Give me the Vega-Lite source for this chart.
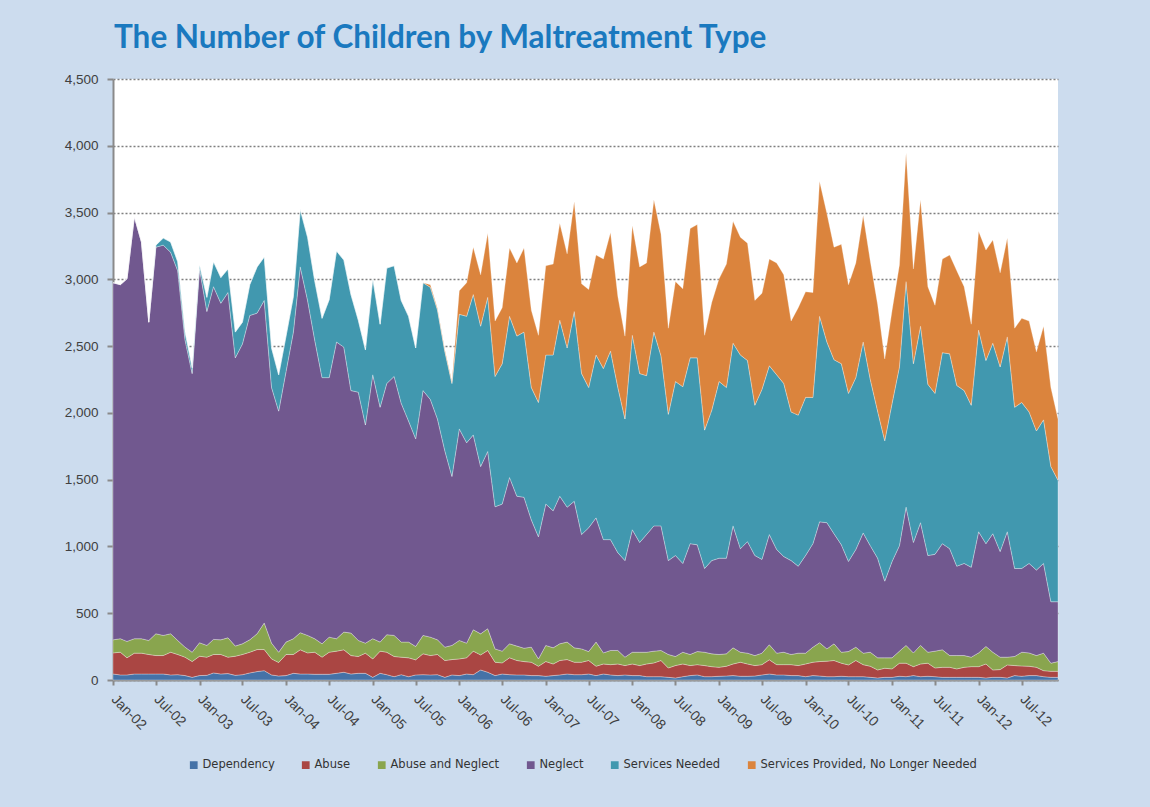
{
  "$schema": "https://vega.github.io/schema/vega-lite/v6.json",
  "width": 945,
  "height": 601,
  "autosize": {"type": "none"},
  "padding": {"left": 113, "top": 79, "right": 92, "bottom": 127},
  "background": "#CCDCEE",
  "view": {"fill": "#ffffff", "stroke": null},
  "title": {
    "text": "The Number of Children by Maltreatment Type",
    "anchor": "start",
    "frame": "group",
    "font": "Lato",
    "fontWeight": "bold",
    "fontSize": 31.5,
    "color": "#1A79BF",
    "baseline": "alphabetic",
    "offset": -7,
    "dx": 1
  },
  "data": {
    "format": {"parse": {"date": "date:'%Y-%m'"}},
    "values": [
      {"date":"2002-01","Dependency":45,"Abuse":158,"Abuse and Neglect":98,"Neglect":2674,"Services Needed":0,"Services Provided, No Longer Needed":0},
      {"date":"2002-02","Dependency":38,"Abuse":170,"Abuse and Neglect":101,"Neglect":2651,"Services Needed":0,"Services Provided, No Longer Needed":0},
      {"date":"2002-03","Dependency":38,"Abuse":128,"Abuse and Neglect":123,"Neglect":2715,"Services Needed":0,"Services Provided, No Longer Needed":0},
      {"date":"2002-04","Dependency":45,"Abuse":156,"Abuse and Neglect":108,"Neglect":3160,"Services Needed":0,"Services Provided, No Longer Needed":0},
      {"date":"2002-05","Dependency":45,"Abuse":156,"Abuse and Neglect":108,"Neglect":2971,"Services Needed":0,"Services Provided, No Longer Needed":0},
      {"date":"2002-06","Dependency":45,"Abuse":146,"Abuse and Neglect":105,"Neglect":2383,"Services Needed":0,"Services Provided, No Longer Needed":0},
      {"date":"2002-07","Dependency":45,"Abuse":138,"Abuse and Neglect":163,"Neglect":2895,"Services Needed":15,"Services Provided, No Longer Needed":0},
      {"date":"2002-08","Dependency":45,"Abuse":138,"Abuse and Neglect":151,"Neglect":2922,"Services Needed":53,"Services Provided, No Longer Needed":0},
      {"date":"2002-09","Dependency":38,"Abuse":170,"Abuse and Neglect":138,"Neglect":2857,"Services Needed":77,"Services Provided, No Longer Needed":0},
      {"date":"2002-10","Dependency":40,"Abuse":151,"Abuse and Neglect":105,"Neglect":2768,"Services Needed":68,"Services Provided, No Longer Needed":0},
      {"date":"2002-11","Dependency":33,"Abuse":138,"Abuse and Neglect":75,"Neglect":2300,"Services Needed":59,"Services Provided, No Longer Needed":0},
      {"date":"2002-12","Dependency":20,"Abuse":118,"Abuse and Neglect":70,"Neglect":2086,"Services Needed":44,"Services Provided, No Longer Needed":0},
      {"date":"2003-01","Dependency":33,"Abuse":145,"Abuse and Neglect":101,"Neglect":2801,"Services Needed":30,"Services Provided, No Longer Needed":0},
      {"date":"2003-02","Dependency":35,"Abuse":136,"Abuse and Neglect":88,"Neglect":2500,"Services Needed":106,"Services Provided, No Longer Needed":0},
      {"date":"2003-03","Dependency":53,"Abuse":138,"Abuse and Neglect":113,"Neglect":2641,"Services Needed":187,"Services Provided, No Longer Needed":0},
      {"date":"2003-04","Dependency":45,"Abuse":146,"Abuse and Neglect":110,"Neglect":2520,"Services Needed":192,"Services Provided, No Longer Needed":0},
      {"date":"2003-05","Dependency":48,"Abuse":123,"Abuse and Neglect":145,"Neglect":2585,"Services Needed":177,"Services Provided, No Longer Needed":0},
      {"date":"2003-06","Dependency":35,"Abuse":143,"Abuse and Neglect":76,"Neglect":2158,"Services Needed":193,"Services Provided, No Longer Needed":0},
      {"date":"2003-07","Dependency":40,"Abuse":151,"Abuse and Neglect":80,"Neglect":2245,"Services Needed":163,"Services Provided, No Longer Needed":0},
      {"date":"2003-08","Dependency":53,"Abuse":155,"Abuse and Neglect":93,"Neglect":2428,"Services Needed":231,"Services Provided, No Longer Needed":0},
      {"date":"2003-09","Dependency":63,"Abuse":165,"Abuse and Neglect":118,"Neglect":2401,"Services Needed":346,"Services Provided, No Longer Needed":0},
      {"date":"2003-10","Dependency":70,"Abuse":158,"Abuse and Neglect":199,"Neglect":2415,"Services Needed":325,"Services Provided, No Longer Needed":0},
      {"date":"2003-11","Dependency":38,"Abuse":120,"Abuse and Neglect":118,"Neglect":1914,"Services Needed":296,"Services Provided, No Longer Needed":0},
      {"date":"2003-12","Dependency":30,"Abuse":101,"Abuse and Neglect":77,"Neglect":1805,"Services Needed":272,"Services Provided, No Longer Needed":0},
      {"date":"2004-01","Dependency":33,"Abuse":158,"Abuse and Neglect":93,"Neglect":2025,"Services Needed":266,"Services Provided, No Longer Needed":0},
      {"date":"2004-02","Dependency":50,"Abuse":141,"Abuse and Neglect":118,"Neglect":2296,"Services Needed":266,"Services Provided, No Longer Needed":0},
      {"date":"2004-03","Dependency":45,"Abuse":181,"Abuse and Neglect":128,"Neglect":2739,"Services Needed":429,"Services Provided, No Longer Needed":0},
      {"date":"2004-04","Dependency":45,"Abuse":158,"Abuse and Neglect":131,"Neglect":2508,"Services Needed":473,"Services Provided, No Longer Needed":0},
      {"date":"2004-05","Dependency":43,"Abuse":165,"Abuse and Neglect":101,"Neglect":2237,"Services Needed":444,"Services Provided, No Longer Needed":0},
      {"date":"2004-06","Dependency":43,"Abuse":128,"Abuse and Neglect":100,"Neglect":1993,"Services Needed":444,"Services Provided, No Longer Needed":0},
      {"date":"2004-07","Dependency":43,"Abuse":165,"Abuse and Neglect":113,"Neglect":1943,"Services Needed":584,"Services Provided, No Longer Needed":0},
      {"date":"2004-08","Dependency":50,"Abuse":166,"Abuse and Neglect":93,"Neglect":2222,"Services Needed":681,"Services Provided, No Longer Needed":0},
      {"date":"2004-09","Dependency":58,"Abuse":168,"Abuse and Neglect":133,"Neglect":2133,"Services Needed":652,"Services Provided, No Longer Needed":0},
      {"date":"2004-10","Dependency":45,"Abuse":138,"Abuse and Neglect":168,"Neglect":1816,"Services Needed":719,"Services Provided, No Longer Needed":0},
      {"date":"2004-11","Dependency":50,"Abuse":126,"Abuse and Neglect":120,"Neglect":1859,"Services Needed":539,"Services Provided, No Longer Needed":0},
      {"date":"2004-12","Dependency":50,"Abuse":151,"Abuse and Neglect":75,"Neglect":1633,"Services Needed":563,"Services Provided, No Longer Needed":0},
      {"date":"2005-01","Dependency":20,"Abuse":138,"Abuse and Neglect":151,"Neglect":1976,"Services Needed":719,"Services Provided, No Longer Needed":0},
      {"date":"2005-02","Dependency":50,"Abuse":166,"Abuse and Neglect":68,"Neglect":1758,"Services Needed":622,"Services Provided, No Longer Needed":0},
      {"date":"2005-03","Dependency":40,"Abuse":168,"Abuse and Neglect":131,"Neglect":1881,"Services Needed":864,"Services Provided, No Longer Needed":0},
      {"date":"2005-04","Dependency":25,"Abuse":151,"Abuse and Neglect":158,"Neglect":1939,"Services Needed":829,"Services Provided, No Longer Needed":0},
      {"date":"2005-05","Dependency":40,"Abuse":131,"Abuse and Neglect":113,"Neglect":1788,"Services Needed":770,"Services Provided, No Longer Needed":0},
      {"date":"2005-06","Dependency":25,"Abuse":141,"Abuse and Neglect":118,"Neglect":1655,"Services Needed":784,"Services Provided, No Longer Needed":0},
      {"date":"2005-07","Dependency":38,"Abuse":113,"Abuse and Neglect":100,"Neglect":1555,"Services Needed":680,"Services Provided, No Longer Needed":0},
      {"date":"2005-08","Dependency":40,"Abuse":156,"Abuse and Neglect":138,"Neglect":1833,"Services Needed":808,"Services Provided, No Longer Needed":0},
      {"date":"2005-09","Dependency":38,"Abuse":145,"Abuse and Neglect":138,"Neglect":1779,"Services Needed":840,"Services Provided, No Longer Needed":20},
      {"date":"2005-10","Dependency":40,"Abuse":151,"Abuse and Neglect":110,"Neglect":1653,"Services Needed":816,"Services Provided, No Longer Needed":12},
      {"date":"2005-11","Dependency":20,"Abuse":126,"Abuse and Neglect":100,"Neglect":1471,"Services Needed":743,"Services Provided, No Longer Needed":12},
      {"date":"2005-12","Dependency":38,"Abuse":115,"Abuse and Neglect":106,"Neglect":1265,"Services Needed":696,"Services Provided, No Longer Needed":15},
      {"date":"2006-01","Dependency":33,"Abuse":125,"Abuse and Neglect":138,"Neglect":1584,"Services Needed":858,"Services Provided, No Longer Needed":177},
      {"date":"2006-02","Dependency":45,"Abuse":121,"Abuse and Neglect":110,"Neglect":1500,"Services Needed":947,"Services Provided, No Longer Needed":252},
      {"date":"2006-03","Dependency":40,"Abuse":176,"Abuse and Neglect":160,"Neglect":1459,"Services Needed":1051,"Services Provided, No Longer Needed":355},
      {"date":"2006-04","Dependency":75,"Abuse":113,"Abuse and Neglect":158,"Neglect":1252,"Services Needed":1051,"Services Provided, No Longer Needed":385},
      {"date":"2006-05","Dependency":58,"Abuse":163,"Abuse and Neglect":163,"Neglect":1327,"Services Needed":1154,"Services Provided, No Longer Needed":480},
      {"date":"2006-06","Dependency":33,"Abuse":100,"Abuse and Neglect":100,"Neglect":1064,"Services Needed":976,"Services Provided, No Longer Needed":415},
      {"date":"2006-07","Dependency":45,"Abuse":83,"Abuse and Neglect":88,"Neglect":1101,"Services Needed":1051,"Services Provided, No Longer Needed":420},
      {"date":"2006-08","Dependency":40,"Abuse":126,"Abuse and Neglect":105,"Neglect":1245,"Services Needed":1207,"Services Provided, No Longer Needed":512},
      {"date":"2006-09","Dependency":38,"Abuse":108,"Abuse and Neglect":108,"Neglect":1122,"Services Needed":1199,"Services Provided, No Longer Needed":548},
      {"date":"2006-10","Dependency":38,"Abuse":100,"Abuse and Neglect":100,"Neglect":1130,"Services Needed":1237,"Services Provided, No Longer Needed":630},
      {"date":"2006-11","Dependency":33,"Abuse":100,"Abuse and Neglect":113,"Neglect":953,"Services Needed":991,"Services Provided, No Longer Needed":578},
      {"date":"2006-12","Dependency":33,"Abuse":70,"Abuse and Neglect":55,"Neglect":914,"Services Needed":1006,"Services Provided, No Longer Needed":503},
      {"date":"2007-01","Dependency":28,"Abuse":110,"Abuse and Neglect":121,"Neglect":1058,"Services Needed":1116,"Services Provided, No Longer Needed":669},
      {"date":"2007-02","Dependency":33,"Abuse":87,"Abuse and Neglect":121,"Neglect":1026,"Services Needed":1166,"Services Provided, No Longer Needed":681},
      {"date":"2007-03","Dependency":38,"Abuse":108,"Abuse and Neglect":125,"Neglect":1105,"Services Needed":1318,"Services Provided, No Longer Needed":725},
      {"date":"2007-04","Dependency":45,"Abuse":108,"Abuse and Neglect":131,"Neglect":1010,"Services Needed":1192,"Services Provided, No Longer Needed":705},
      {"date":"2007-05","Dependency":40,"Abuse":93,"Abuse and Neglect":108,"Neglect":1097,"Services Needed":1421,"Services Provided, No Longer Needed":823},
      {"date":"2007-06","Dependency":40,"Abuse":93,"Abuse and Neglect":100,"Neglect":856,"Services Needed":1205,"Services Provided, No Longer Needed":672},
      {"date":"2007-07","Dependency":45,"Abuse":101,"Abuse and Neglect":67,"Neglect":927,"Services Needed":1050,"Services Provided, No Longer Needed":734},
      {"date":"2007-08","Dependency":33,"Abuse":70,"Abuse and Neglect":181,"Neglect":930,"Services Needed":1219,"Services Provided, No Longer Needed":749},
      {"date":"2007-09","Dependency":45,"Abuse":75,"Abuse and Neglect":83,"Neglect":848,"Services Needed":1281,"Services Provided, No Longer Needed":820},
      {"date":"2007-10","Dependency":38,"Abuse":77,"Abuse and Neglect":106,"Neglect":830,"Services Needed":1412,"Services Provided, No Longer Needed":888},
      {"date":"2007-11","Dependency":33,"Abuse":87,"Abuse and Neglect":101,"Neglect":732,"Services Needed":1237,"Services Provided, No Longer Needed":681},
      {"date":"2007-12","Dependency":38,"Abuse":70,"Abuse and Neglect":63,"Neglect":723,"Services Needed":1060,"Services Provided, No Longer Needed":621},
      {"date":"2008-01","Dependency":33,"Abuse":87,"Abuse and Neglect":88,"Neglect":917,"Services Needed":1456,"Services Provided, No Longer Needed":823},
      {"date":"2008-02","Dependency":33,"Abuse":75,"Abuse and Neglect":100,"Neglect":822,"Services Needed":1264,"Services Provided, No Longer Needed":799},
      {"date":"2008-03","Dependency":25,"Abuse":95,"Abuse and Neglect":88,"Neglect":881,"Services Needed":1190,"Services Provided, No Longer Needed":844},
      {"date":"2008-04","Dependency":25,"Abuse":103,"Abuse and Neglect":88,"Neglect":938,"Services Needed":1451,"Services Provided, No Longer Needed":991},
      {"date":"2008-05","Dependency":25,"Abuse":121,"Abuse and Neglect":75,"Neglect":933,"Services Needed":1273,"Services Provided, No Longer Needed":912},
      {"date":"2008-06","Dependency":20,"Abuse":70,"Abuse and Neglect":101,"Neglect":703,"Services Needed":1095,"Services Provided, No Longer Needed":645},
      {"date":"2008-07","Dependency":15,"Abuse":93,"Abuse and Neglect":68,"Neglect":756,"Services Needed":1303,"Services Provided, No Longer Needed":749},
      {"date":"2008-08","Dependency":25,"Abuse":95,"Abuse and Neglect":88,"Neglect":665,"Services Needed":1323,"Services Provided, No Longer Needed":734},
      {"date":"2008-09","Dependency":33,"Abuse":75,"Abuse and Neglect":83,"Neglect":830,"Services Needed":1391,"Services Provided, No Longer Needed":968},
      {"date":"2008-10","Dependency":38,"Abuse":77,"Abuse and Neglect":98,"Neglect":799,"Services Needed":1400,"Services Provided, No Longer Needed":998},
      {"date":"2008-11","Dependency":25,"Abuse":83,"Abuse and Neglect":100,"Neglect":627,"Services Needed":1036,"Services Provided, No Longer Needed":710},
      {"date":"2008-12","Dependency":25,"Abuse":75,"Abuse and Neglect":96,"Neglect":698,"Services Needed":1125,"Services Provided, No Longer Needed":808},
      {"date":"2009-01","Dependency":28,"Abuse":67,"Abuse and Neglect":96,"Neglect":721,"Services Needed":1323,"Services Provided, No Longer Needed":769},
      {"date":"2009-02","Dependency":30,"Abuse":73,"Abuse and Neglect":93,"Neglect":716,"Services Needed":1278,"Services Provided, No Longer Needed":924},
      {"date":"2009-03","Dependency":33,"Abuse":87,"Abuse and Neglect":121,"Neglect":913,"Services Needed":1368,"Services Provided, No Longer Needed":912},
      {"date":"2009-04","Dependency":28,"Abuse":105,"Abuse and Neglect":75,"Neglect":775,"Services Needed":1450,"Services Provided, No Longer Needed":882},
      {"date":"2009-05","Dependency":28,"Abuse":92,"Abuse and Neglect":81,"Neglect":835,"Services Needed":1356,"Services Provided, No Longer Needed":879},
      {"date":"2009-06","Dependency":30,"Abuse":78,"Abuse and Neglect":75,"Neglect":749,"Services Needed":1125,"Services Provided, No Longer Needed":785},
      {"date":"2009-07","Dependency":38,"Abuse":77,"Abuse and Neglect":86,"Neglect":702,"Services Needed":1273,"Services Provided, No Longer Needed":719},
      {"date":"2009-08","Dependency":45,"Abuse":106,"Abuse and Neglect":113,"Neglect":825,"Services Needed":1264,"Services Provided, No Longer Needed":799},
      {"date":"2009-09","Dependency":38,"Abuse":77,"Abuse and Neglect":86,"Neglect":776,"Services Needed":1308,"Services Provided, No Longer Needed":838},
      {"date":"2009-10","Dependency":38,"Abuse":77,"Abuse and Neglect":93,"Neglect":716,"Services Needed":1296,"Services Provided, No Longer Needed":814},
      {"date":"2009-11","Dependency":33,"Abuse":82,"Abuse and Neglect":76,"Neglect":703,"Services Needed":1113,"Services Provided, No Longer Needed":681},
      {"date":"2009-12","Dependency":33,"Abuse":75,"Abuse and Neglect":93,"Neglect":651,"Services Needed":1131,"Services Provided, No Longer Needed":805},
      {"date":"2010-01","Dependency":25,"Abuse":95,"Abuse and Neglect":81,"Neglect":731,"Services Needed":1184,"Services Provided, No Longer Needed":791},
      {"date":"2010-02","Dependency":33,"Abuse":100,"Abuse and Neglect":113,"Neglect":775,"Services Needed":1095,"Services Provided, No Longer Needed":785},
      {"date":"2010-03","Dependency":30,"Abuse":108,"Abuse and Neglect":141,"Neglect":905,"Services Needed":1539,"Services Provided, No Longer Needed":1012},
      {"date":"2010-04","Dependency":25,"Abuse":116,"Abuse and Neglect":92,"Neglect":945,"Services Needed":1353,"Services Provided, No Longer Needed":962},
      {"date":"2010-05","Dependency":25,"Abuse":121,"Abuse and Neglect":125,"Neglect":824,"Services Needed":1303,"Services Provided, No Longer Needed":843},
      {"date":"2010-06","Dependency":28,"Abuse":98,"Abuse and Neglect":82,"Neglect":804,"Services Needed":1356,"Services Provided, No Longer Needed":894},
      {"date":"2010-07","Dependency":25,"Abuse":88,"Abuse and Neglect":100,"Neglect":675,"Services Needed":1258,"Services Provided, No Longer Needed":814},
      {"date":"2010-08","Dependency":25,"Abuse":121,"Abuse and Neglect":100,"Neglect":731,"Services Needed":1287,"Services Provided, No Longer Needed":859},
      {"date":"2010-09","Dependency":25,"Abuse":90,"Abuse and Neglect":86,"Neglect":900,"Services Needed":1430,"Services Provided, No Longer Needed":947},
      {"date":"2010-10","Dependency":20,"Abuse":83,"Abuse and Neglect":105,"Neglect":798,"Services Needed":1244,"Services Provided, No Longer Needed":888},
      {"date":"2010-11","Dependency":15,"Abuse":60,"Abuse and Neglect":91,"Neglect":746,"Services Needed":1101,"Services Provided, No Longer Needed":799},
      {"date":"2010-12","Dependency":20,"Abuse":68,"Abuse and Neglect":78,"Neglect":574,"Services Needed":1051,"Services Provided, No Longer Needed":613},
      {"date":"2011-01","Dependency":20,"Abuse":63,"Abuse and Neglect":83,"Neglect":722,"Services Needed":1184,"Services Provided, No Longer Needed":696},
      {"date":"2011-02","Dependency":28,"Abuse":98,"Abuse and Neglect":90,"Neglect":790,"Services Needed":1338,"Services Provided, No Longer Needed":764},
      {"date":"2011-03","Dependency":25,"Abuse":101,"Abuse and Neglect":133,"Neglect":1036,"Services Needed":1688,"Services Provided, No Longer Needed":962},
      {"date":"2011-04","Dependency":33,"Abuse":67,"Abuse and Neglect":103,"Neglect":827,"Services Needed":1338,"Services Provided, No Longer Needed":710},
      {"date":"2011-05","Dependency":25,"Abuse":95,"Abuse and Neglect":139,"Neglect":919,"Services Needed":1471,"Services Provided, No Longer Needed":947},
      {"date":"2011-06","Dependency":28,"Abuse":98,"Abuse and Neglect":82,"Neglect":724,"Services Needed":1282,"Services Provided, No Longer Needed":731},
      {"date":"2011-07","Dependency":25,"Abuse":65,"Abuse and Neglect":126,"Neglect":725,"Services Needed":1205,"Services Provided, No Longer Needed":660},
      {"date":"2011-08","Dependency":20,"Abuse":75,"Abuse and Neglect":131,"Neglect":795,"Services Needed":1430,"Services Provided, No Longer Needed":701},
      {"date":"2011-09","Dependency":20,"Abuse":75,"Abuse and Neglect":88,"Neglect":800,"Services Needed":1459,"Services Provided, No Longer Needed":740},
      {"date":"2011-10","Dependency":20,"Abuse":63,"Abuse and Neglect":100,"Neglect":669,"Services Needed":1353,"Services Provided, No Longer Needed":859},
      {"date":"2011-11","Dependency":20,"Abuse":75,"Abuse and Neglect":88,"Neglect":690,"Services Needed":1294,"Services Provided, No Longer Needed":778},
      {"date":"2011-12","Dependency":20,"Abuse":80,"Abuse and Neglect":71,"Neglect":673,"Services Needed":1213,"Services Provided, No Longer Needed":607},
      {"date":"2012-01","Dependency":20,"Abuse":80,"Abuse and Neglect":103,"Neglect":907,"Services Needed":1510,"Services Provided, No Longer Needed":740},
      {"date":"2012-02","Dependency":15,"Abuse":105,"Abuse and Neglect":131,"Neglect":770,"Services Needed":1371,"Services Provided, No Longer Needed":828},
      {"date":"2012-03","Dependency":20,"Abuse":55,"Abuse and Neglect":133,"Neglect":887,"Services Needed":1427,"Services Provided, No Longer Needed":772},
      {"date":"2012-04","Dependency":20,"Abuse":58,"Abuse and Neglect":93,"Neglect":791,"Services Needed":1382,"Services Provided, No Longer Needed":705},
      {"date":"2012-05","Dependency":15,"Abuse":98,"Abuse and Neglect":58,"Neglect":939,"Services Needed":1459,"Services Provided, No Longer Needed":740},
      {"date":"2012-06","Dependency":33,"Abuse":75,"Abuse and Neglect":68,"Neglect":659,"Services Needed":1207,"Services Provided, No Longer Needed":592},
      {"date":"2012-07","Dependency":28,"Abuse":77,"Abuse and Neglect":103,"Neglect":627,"Services Needed":1243,"Services Provided, No Longer Needed":630},
      {"date":"2012-08","Dependency":33,"Abuse":70,"Abuse and Neglect":100,"Neglect":670,"Services Needed":1134,"Services Provided, No Longer Needed":681},
      {"date":"2012-09","Dependency":33,"Abuse":62,"Abuse and Neglect":88,"Neglect":640,"Services Needed":1042,"Services Provided, No Longer Needed":592},
      {"date":"2012-10","Dependency":25,"Abuse":45,"Abuse and Neglect":131,"Neglect":672,"Services Needed":1075,"Services Provided, No Longer Needed":701},
      {"date":"2012-11","Dependency":20,"Abuse":45,"Abuse and Neglect":61,"Neglect":460,"Services Needed":1012,"Services Provided, No Longer Needed":592},
      {"date":"2012-12","Dependency":20,"Abuse":45,"Abuse and Neglect":73,"Neglect":448,"Services Needed":909,"Services Provided, No Longer Needed":459}
    ]
  },
  "transform": [
    {"fold": ["Dependency", "Abuse", "Abuse and Neglect", "Neglect", "Services Needed", "Services Provided, No Longer Needed"], "as": ["type", "value"]},
    {
      "lookup": "type",
      "from": {
        "data": {"values": [
          {"type": "Dependency", "rank": 1},
          {"type": "Abuse", "rank": 2},
          {"type": "Abuse and Neglect", "rank": 3},
          {"type": "Neglect", "rank": 4},
          {"type": "Services Needed", "rank": 5},
          {"type": "Services Provided, No Longer Needed", "rank": 6}
        ]},
        "key": "type",
        "fields": ["rank"]
      }
    }
  ],
  "mark": {"type": "area", "stroke": "#ffffff", "strokeWidth": 0.6, "strokeOpacity": 0.5},
  "encoding": {
    "x": {
      "field": "date",
      "type": "temporal",
      "title": null,
      "scale": {"domain": [{"year": 2002, "month": 1, "date": 1}, {"year": 2012, "month": 12, "date": 1}], "nice": false},
      "axis": {
        "tickCount": {"interval": "month", "step": 6},
        "format": "%b-%y",
        "labelAngle": 45,
        "labelAlign": "left",
        "labelBaseline": "middle",
        "labelPadding": 12,
        "labelFont": "Liberation Sans",
        "labelFontSize": 14,
        "labelColor": "#404040",
        "labelOverlap": false,
        "labelFlush": false,
        "grid": false,
        "domainColor": "#8A8A8A",
        "domainWidth": 2,
        "tickColor": "#8A8A8A",
        "tickWidth": 2,
        "tickSize": 5
      }
    },
    "y": {
      "field": "value",
      "type": "quantitative",
      "stack": "zero",
      "title": null,
      "scale": {"domain": [0, 4500], "nice": false},
      "axis": {
        "values": [0, 500, 1000, 1500, 2000, 2500, 3000, 3500, 4000, 4500],
        "format": ",.0f",
        "labelFont": "Liberation Sans",
        "labelFontSize": 13.5,
        "labelColor": "#404040",
        "labelPadding": 9,
        "grid": true,
        "gridColor": "#7F7F7F",
        "gridDash": [2, 2],
        "gridWidth": 1.5,
        "domainColor": "#8A8A8A",
        "domainWidth": 2,
        "tickColor": "#8A8A8A",
        "tickWidth": 2,
        "tickSize": 6
      }
    },
    "order": {"field": "rank", "type": "quantitative", "sort": "ascending"},
    "color": {
      "field": "type",
      "type": "nominal",
      "scale": {
        "domain": ["Dependency", "Abuse", "Abuse and Neglect", "Neglect", "Services Needed", "Services Provided, No Longer Needed"],
        "range": ["#4572A7", "#AA4643", "#89A54E", "#71588F", "#4198AF", "#DB843D"]
      },
      "legend": {
        "title": null,
        "orient": "none",
        "legendX": 75,
        "legendY": 680,
        "direction": "horizontal",
        "columns": 6,
        "symbolType": "square",
        "symbolSize": 60,
        "symbolStrokeWidth": 0,
        "labelFont": "DejaVu Sans",
        "labelFontSize": 11.5,
        "labelColor": "#333333",
        "labelLimit": 400,
        "labelOffset": 3,
        "columnPadding": 25
      }
    }
  }
}
